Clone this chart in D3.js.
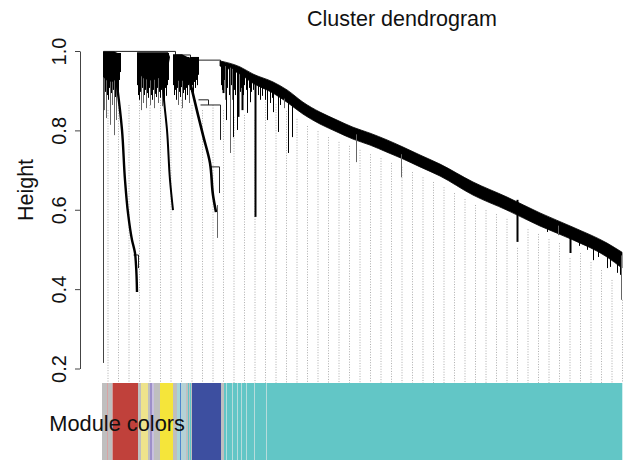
<!DOCTYPE html>
<html>
<head>
<meta charset="utf-8">
<script src="https://cdn.jsdelivr.net/npm/d3@7"></script>
<style>
  body { margin: 0; background: #fff; }
  text { font-family: "Liberation Sans", Arial, Helvetica, sans-serif; fill: #111; }
</style>
</head>
<body>
<div id="d3"></div>
<script>
// ---- values ----
// leaf order runs 0..520 along the tree, heights are on the Height axis
var heightTicks = [0.2, 0.4, 0.6, 0.8, 1.0];

// the lone leaf at the far left
var singleton = [1, 0.999, 0.214];

// top joins between the big branches [p1, h1, p2, h2]
var topJoins = [
  [1, 0.999, 73, 0.999], [73, 0.999, 73, 0.990], [73, 0.990, 88, 0.990],
  [88, 0.990, 88, 0.977], [88, 0.977, 118, 0.977], [118, 0.977, 118, 0.972],
  [118, 0.972, 121, 0.972],
  // small boxes on the hanging branches
  [96, 0.877, 106, 0.877], [106, 0.877, 106, 0.864], [98, 0.864, 118, 0.864],
  [118, 0.864, 118, 0.776], [108, 0.708, 117, 0.708], [117, 0.708, 117, 0.642],
  [31, 0.486, 36, 0.486], [36, 0.486, 36, 0.453]
];

// dense cores of the three left clusters [p, h]
var clusterA = [[1,0.999],[12,0.999],[17,0.994],[19,0.980],[18,0.955],[15,0.930],[10,0.922],[5,0.925],[1,0.935]];
var clusterB = [[35,0.997],[66,0.997],[68,0.985],[66,0.955],[60,0.935],[50,0.925],[42,0.930],[36,0.945]];
var clusterC = [[71,0.992],[80,0.992],[88,0.982],[96,0.972],[97,0.955],[92,0.935],[84,0.925],[76,0.925],[71,0.940]];

// the long turquoise chain
var bandPos    = [118,138,151,171,185,201,218,235,251,268,285,301,318,338,371,405,438,471,505,520];
var bandTop    = [0.975,0.960,0.942,0.922,0.902,0.871,0.846,0.826,0.808,0.793,0.776,0.758,0.738,0.715,0.670,0.632,0.592,0.556,0.516,0.493];
var bandBottom = [0.962,0.942,0.919,0.894,0.871,0.841,0.816,0.796,0.778,0.763,0.745,0.728,0.708,0.685,0.637,0.599,0.559,0.524,0.481,0.453];

// descending branches of the red, yellow and blue modules
var redChain    = [[11,0.987],[15,0.914],[20,0.801],[23,0.675],[26,0.592],[30,0.524],[33,0.491],[34,0.461],[35,0.393]];
var yellowChain = [[59,0.990],[62,0.877],[65,0.801],[68,0.675],[71,0.599]];
var blueChain   = [[83,0.972],[90,0.902],[96,0.839],[101,0.788],[108,0.718],[111,0.637],[114,0.594]];

// leaves hanging under the left clusters [p, hBottom]
var leavesA = [[2,0.851],[3,0.897],[4,0.831],[5,0.889],[6,0.877],[7,0.907],[8,0.814],[9,0.894],[10,0.864],
  [11,0.902],[12,0.788],[13,0.884],[14,0.826],[15,0.907],[16,0.877],[17,0.927],[18,0.947]];
var leavesB = [[35,0.914],[36,0.889],[37,0.877],[38,0.897],[39,0.851],[40,0.907],[41,0.869],[42,0.889],
  [43,0.902],[44,0.856],[45,0.894],[46,0.882],[47,0.907],[48,0.864],[49,0.889],[50,0.877],[51,0.902],
  [52,0.856],[53,0.892],[54,0.884],[55,0.907],[56,0.869],[57,0.897],[58,0.882],[59,0.902],[60,0.861],
  [61,0.894],[62,0.877],[63,0.907],[64,0.887],[65,0.914],[66,0.927]];
var leavesC = [[71,0.914],[72,0.889],[73,0.902],[74,0.877],[75,0.907],[76,0.864],[77,0.897],[78,0.884],
  [79,0.909],[80,0.856],[81,0.894],[82,0.902],[83,0.877],[84,0.907],[85,0.889],[86,0.914],[87,0.869],
  [88,0.902],[89,0.897],[90,0.914],[91,0.882],[92,0.922],[93,0.907],[94,0.927],[95,0.914],[96,0.940]];

// hanging sub-branches of the turquoise chain [p, hTop, hBottom, weight]
var spikes = [
  [115,0.612,0.529,0.7],
  [119,0.965,0.914,1],[120,0.965,0.902,1],[121,0.972,0.894,2],[122,0.962,0.927,1],[123,0.962,0.877,0.8],
  [124,0.962,0.826,1],[125,0.960,0.907,1],[127,0.958,0.889,1],[128,0.958,0.743,0.7],[129,0.955,0.914,1],
  [130,0.955,0.877,0.8],[131,0.955,0.783,1],[132,0.952,0.902,1],[133,0.950,0.889,1],[135,0.948,0.801,1],
  [136,0.948,0.834,1.5],[138,0.945,0.897,1],[139,0.945,0.907,1],[140,0.945,0.851,1.5],[141,0.940,0.889,1],
  [142,0.938,0.914,1],[144,0.935,0.902,1],[145,0.935,0.844,1],[147,0.930,0.907,1],[148,0.930,0.871,1],
  [149,0.928,0.897,1],[151,0.925,0.902,1],[153,0.930,0.582,2.2],[156,0.915,0.889,1],[158,0.912,0.877,1],
  [160,0.910,0.887,1],[163,0.905,0.877,1],[165,0.905,0.826,1.3],[168,0.900,0.869,1],[170,0.898,0.882,1],
  [171,0.898,0.846,1],[176,0.890,0.796,1.3],[178,0.885,0.864,1],[182,0.880,0.856,0.8],[186,0.875,0.743,1.3],
  [190,0.870,0.783,1],
  [254,0.790,0.720,0.8],[299,0.740,0.682,0.8],[415,0.625,0.519,1.5],[445,0.570,0.544,1],[456,0.560,0.536,0.7],
  [468,0.545,0.491,1.5],[477,0.535,0.509,1],[485,0.525,0.499,1],[491,0.518,0.473,1],[496,0.512,0.481,1],
  [505,0.500,0.453,1.3],[508,0.497,0.456,1],[511,0.492,0.473,1],[515,0.488,0.441,1],[518,0.485,0.436,1],
  [519,0.485,0.373,0.8]
];

// where the dotted guide lines start
var guideTop = [0.851,0.877,0.864,0.877,0.864,0.877,0.851,0.877,0.864,0.851,0.864,0.851,
  0.834,0.839,0.826,
  0.879,0.866,0.849,0.829,0.811,0.798,0.783,0.771,0.761,0.751,0.740,0.730,0.718,0.708,0.695,
  0.682,0.670,0.657,0.642,0.627,0.612,0.599,0.589,0.577,0.504,0.551,0.539,0.526,0.516,0.478,
  0.491,0.468,0.448,0.423,0.373];

// module colour runs [colour, from, to]
var grey = "#bfbfbf", turq = "#62c6c6", pale = "#b6dcdc";
var moduleRuns = [
  [grey,0,5],["#d8a3a3",5,6],[grey,6,10],["#d39a9a",10,11],["#c0413b",11,36],[grey,36,39],
  ["#eee38c",39,46],[grey,46,48],["#9d8fc9",48,50],["#c9c0e0",50,52],[grey,52,58],["#f5e53a",58,71],
  [grey,71,75],["#a9d5d8",75,78],["#4f86cf",78,79],["#b4d2d6",79,84],[grey,84,86],[turq,86,87],
  [grey,87,88],[turq,88,89],[grey,89,90],["#3d4fa0",90,119],[grey,119,122],[turq,122,124],
  [pale,124,125],[turq,125,130],[pale,130,131],[turq,131,135],[pale,135,136],[turq,136,139],
  [pale,139,140],[turq,140,144],[pale,144,145],[turq,145,152],[pale,152,153],[turq,153,164],
  [pale,164,165],[turq,165,520]
];

// ---- drawing ----
var width = 624, height = 460, barTop = 383;

var svg = d3.select("#d3")
  .append("svg")
  .attr("width", width)
  .attr("height", height);

var x = d3.scaleLinear().domain([0, 520]).range([102, 622]);
var y = d3.scaleLinear().domain([0.2, 1.0]).range([368.5, 51]);
var xs = p => x(p) + 0.5; // pixel-centred x for thin vertical lines

// guide lines, evenly spaced along the leaf order
svg.append("g")
  .selectAll("line")
  .data(guideTop)
  .enter().append("line")
    .attr("x1", (d, i) => x(6 + i * 10.5))
    .attr("x2", (d, i) => x(6 + i * 10.5))
    .attr("y1", d => y(d))
    .attr("y2", barTop)
    .attr("stroke", "#8a8a8a")
    .attr("stroke-width", 0.7)
    .attr("stroke-dasharray", "1,1.6");

// module colour bar
svg.append("g")
  .selectAll("rect")
  .data(moduleRuns)
  .enter().append("rect")
    .attr("x", d => x(d[1]))
    .attr("width", d => x(d[2]) - x(d[1]) + 0.3)
    .attr("y", barTop)
    .attr("height", height - barTop)
    .attr("fill", d => d[0]);

svg.append("text")
  .attr("x", 185)
  .attr("y", 431)
  .attr("text-anchor", "end")
  .style("font-size", "21.8px")
  .text("Module colors");

// dendrogram
var tree = svg.append("g");

tree.append("line")
  .attr("x1", xs(singleton[0])).attr("x2", xs(singleton[0]))
  .attr("y1", y(singleton[1])).attr("y2", y(singleton[2]))
  .attr("stroke", "#444").attr("stroke-width", 1);

tree.selectAll(".join")
  .data(topJoins)
  .enter().append("line")
    .attr("class", "join")
    .attr("x1", d => xs(d[0])).attr("y1", d => y(d[1]))
    .attr("x2", d => xs(d[2])).attr("y2", d => y(d[3]))
    .attr("stroke", "#222").attr("stroke-width", 1);

// leaves under the left clusters: long ones drawn thin and grey
[[leavesA, 0.995], [leavesB, 0.995], [leavesC, 0.985]].forEach(function(c) {
  tree.append("g").selectAll("line")
    .data(c[0])
    .enter().append("line")
      .attr("x1", d => xs(d[0])).attr("x2", d => xs(d[0]))
      .attr("y1", y(c[1]))
      .attr("y2", d => y(d[1]))
      .attr("stroke", d => d[1] < 0.87 ? "#666" : "#000")
      .attr("stroke-width", 1);
});

var poly = d3.line().x(d => x(d[0])).y(d => y(d[1])).curve(d3.curveLinearClosed);
[clusterA, clusterB, clusterC].forEach(function(c) {
  tree.append("path").attr("d", poly(c)).attr("fill", "#000");
});

tree.append("path")
  .datum(bandPos)
  .attr("fill", "#000")
  .attr("stroke", "#000")
  .attr("stroke-width", 0.8)
  .attr("d", d3.area()
    .x(d => x(d))
    .y0((d, i) => y(bandBottom[i]))
    .y1((d, i) => y(bandTop[i]))
    .curve(d3.curveMonotoneX));

var chainLine = d3.line().x(d => x(d[0])).y(d => y(d[1])).curve(d3.curveMonotoneY);
[[redChain, 2.4], [yellowChain, 2], [blueChain, 2.6]].forEach(function(c) {
  tree.append("path")
    .attr("d", chainLine(c[0]))
    .attr("fill", "none")
    .attr("stroke", "#000")
    .attr("stroke-width", c[1]);
});

tree.selectAll(".spike")
  .data(spikes)
  .enter().append("line")
    .attr("class", "spike")
    .attr("x1", d => xs(d[0])).attr("x2", d => xs(d[0]))
    .attr("y1", d => y(d[1])).attr("y2", d => y(d[2]))
    .attr("stroke", d => d[3] < 0.9 ? "#666" : "#000")
    .attr("stroke-width", d => d[3] < 0.9 ? 1 : Math.round(d[3]));

// Y axis
var axis = svg.append("g")
  .attr("transform", "translate(80,0)")
  .call(d3.axisLeft(y).tickValues(heightTicks).tickFormat(d3.format(".1f")).tickSize(5).tickSizeOuter(0));

axis.select(".domain").attr("stroke", "#444");
axis.selectAll(".tick line").attr("stroke", "#444");
axis.selectAll(".tick text")
  .attr("transform", "rotate(-90)")
  .attr("x", 0)
  .attr("y", -14)
  .attr("dy", 0)
  .attr("text-anchor", "middle")
  .attr("fill", "#111")
  .style("font-size", "20px")
  .style("font-family", "'Liberation Sans', Arial, sans-serif");

svg.append("text")
  .attr("transform", "translate(33,190) rotate(-90)")
  .attr("text-anchor", "middle")
  .style("font-size", "21.5px")
  .text("Height");

svg.append("text")
  .attr("x", 402)
  .attr("y", 26)
  .attr("text-anchor", "middle")
  .style("font-size", "21.5px")
  .text("Cluster dendrogram");
</script>
</body>
</html>
